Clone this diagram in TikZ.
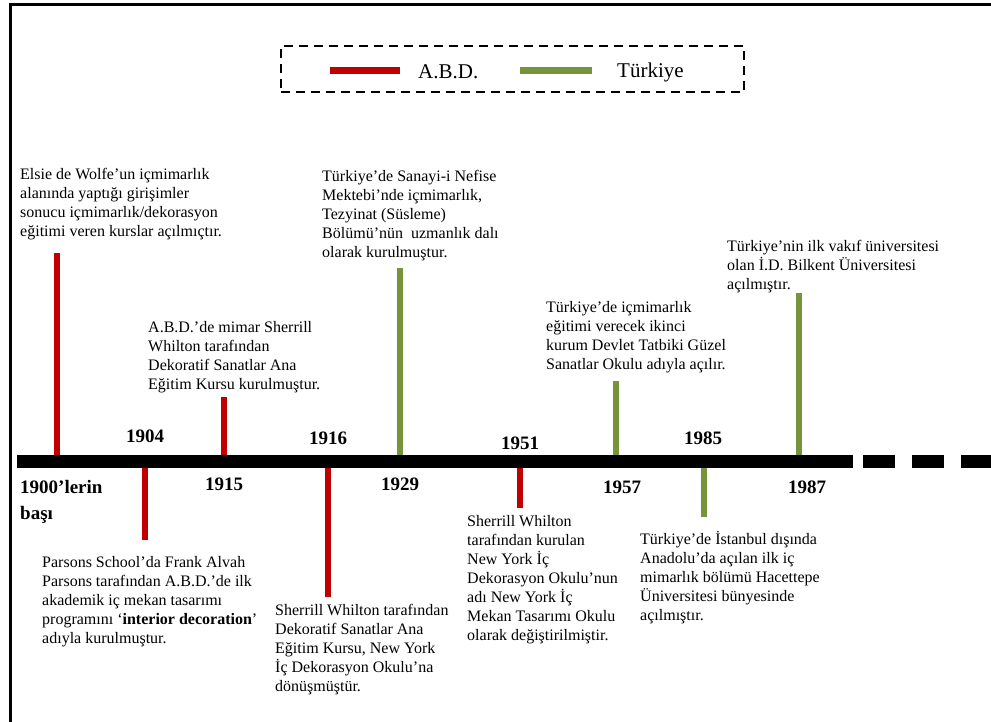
\documentclass[tikz,border=0pt]{standalone}
\usepackage{fontspec}
\setmainfont{Liberation Serif}
\definecolor{abd}{RGB}{192,0,0}
\definecolor{trk}{RGB}{119,147,60}
\newcommand{\bodyfs}{\fontsize{16}{19}\selectfont}
\newcommand{\yearfs}{\fontsize{19}{26}\selectfont\bfseries}
\newcommand{\legfs}{\fontsize{21}{24}\selectfont}
\begin{document}
\begin{tikzpicture}[x=1pt,y=-1pt,
  txt/.style={anchor=north west, inner sep=0pt, align=left, font=\bodyfs},
  yr/.style={inner sep=0pt, font=\yearfs},
  abdbar/.style={draw=abd, line width=6.5pt},
  trbar/.style={draw=trk, line width=6.5pt},
  axisline/.style={draw=black, line width=13pt},
]
\useasboundingbox (0,0) rectangle (991,722);
% frame
\draw[line width=3pt] (10,722) -- (10,5) -- (991,5);
% legend
\node[draw, line width=1.8pt, dash pattern=on 9pt off 6pt, anchor=north west,
      inner sep=0pt, minimum width=463pt, minimum height=46pt] (legend) at (280,45) {};
\coordinate (lr1) at (330,71); \coordinate (lr2) at (400,71);
\coordinate (lg1) at (520,71); \coordinate (lg2) at (592,71);
\draw[draw=abd, line width=7pt] (lr1) -- (lr2);
\draw[draw=trk, line width=7pt] (lg1) -- (lg2);
\node[anchor=west, inner sep=0pt, font=\legfs] (labd) at (418,72) {A.B.D.};
\node[anchor=west, inner sep=0pt, font=\legfs] (ltr) at (617,72) {Türkiye};
% axis coordinates
\coordinate (ax0) at (17,461.5); \coordinate (ax1) at (853,461.5);
\coordinate (dx0) at (863,461.5); \coordinate (dx1) at (991,461.5);
\coordinate (a1900) at (57,461.5);  \coordinate (e1900) at (57,253);
\coordinate (a1904) at (145,461.5); \coordinate (e1904) at (145,540);
\coordinate (a1915) at (224,461.5); \coordinate (e1915) at (224,397);
\coordinate (a1916) at (328,461.5); \coordinate (e1916) at (328,597);
\coordinate (a1929) at (400,461.5); \coordinate (e1929) at (400,268);
\coordinate (a1951) at (520,461.5); \coordinate (e1951) at (520,508);
\coordinate (a1957) at (616,461.5); \coordinate (e1957) at (616,381);
\coordinate (a1985) at (704,461.5); \coordinate (e1985) at (704,517);
\coordinate (a1987) at (799,461.5); \coordinate (e1987) at (799,293);
% bars
\draw[abdbar] (a1900) -- (e1900);
\draw[abdbar] (a1904) -- (e1904);
\draw[abdbar] (a1915) -- (e1915);
\draw[abdbar] (a1916) -- (e1916);
\draw[trbar] (a1929) -- (e1929);
\draw[abdbar] (a1951) -- (e1951);
\draw[trbar] (a1957) -- (e1957);
\draw[trbar] (a1985) -- (e1985);
\draw[trbar] (a1987) -- (e1987);
% axis
\draw[axisline] (ax0) -- (ax1);
\draw[axisline, dash pattern=on 32pt off 17pt] (dx0) -- (dx1);
% year labels
\node[yr, anchor=north west, align=left] (y1900) at (20,475) {\strut 1900’lerin\\başı};
\node[yr] (y1904) at (145,436) {1904};
\node[yr] (y1915) at (224,484) {1915};
\node[yr] (y1916) at (328,438) {1916};
\node[yr] (y1929) at (400,484) {1929};
\node[yr] (y1951) at (520,443) {1951};
\node[yr] (y1957) at (622,487) {1957};
\node[yr] (y1985) at (703,438) {1985};
\node[yr] (y1987) at (807,487) {1987};
% texts
\node[txt] (t1900) at (20,166) {\strut Elsie de Wolfe’un içmimarlık\\alanında yaptığı girişimler\\sonucu içmimarlık/dekorasyon\\eğitimi veren kurslar açılmıçtır.};
\node[txt] (t1929) at (322,168) {\strut Türkiye’de Sanayi-i Nefise\\Mektebi’nde içmimarlık,\\Tezyinat (Süsleme)\\Bölümü’nün~ uzmanlık dalı\\olarak kurulmuştur.};
\node[txt] (t1915) at (148,319) {\strut A.B.D.’de mimar Sherrill\\Whilton tarafından\\Dekoratif Sanatlar Ana\\Eğitim Kursu kurulmuştur.};
\node[txt] (t1957) at (546,299) {\strut Türkiye’de içmimarlık\\eğitimi verecek ikinci\\kurum Devlet Tatbiki Güzel\\Sanatlar Okulu adıyla açılır.};
\node[txt] (t1987) at (727,238) {\strut Türkiye’nin ilk vakıf üniversitesi\\olan İ.D. Bilkent Üniversitesi\\açılmıştır.};
\node[txt] (t1904) at (42,554) {\strut Parsons School’da Frank Alvah\\Parsons tarafından A.B.D.’de ilk\\akademik iç mekan tasarımı\\programını ‘\textbf{interior decoration}’\\adıyla kurulmuştur.};
\node[txt] (t1916) at (275,602) {\strut Sherrill Whilton tarafından\\Dekoratif Sanatlar Ana\\Eğitim Kursu, New York\\İç Dekorasyon Okulu’na\\dönüşmüştür.};
\node[txt] (t1951) at (467,513) {\strut Sherrill Whilton\\tarafından kurulan\\New York İç\\Dekorasyon Okulu’nun\\adı New York İç\\Mekan Tasarımı Okulu\\olarak değiştirilmiştir.};
\node[txt] (t1985) at (640,531) {\strut Türkiye’de İstanbul dışında\\Anadolu’da açılan ilk iç\\mimarlık bölümü Hacettepe\\Üniversitesi bünyesinde\\açılmıştır.};
\end{tikzpicture}
\end{document}
